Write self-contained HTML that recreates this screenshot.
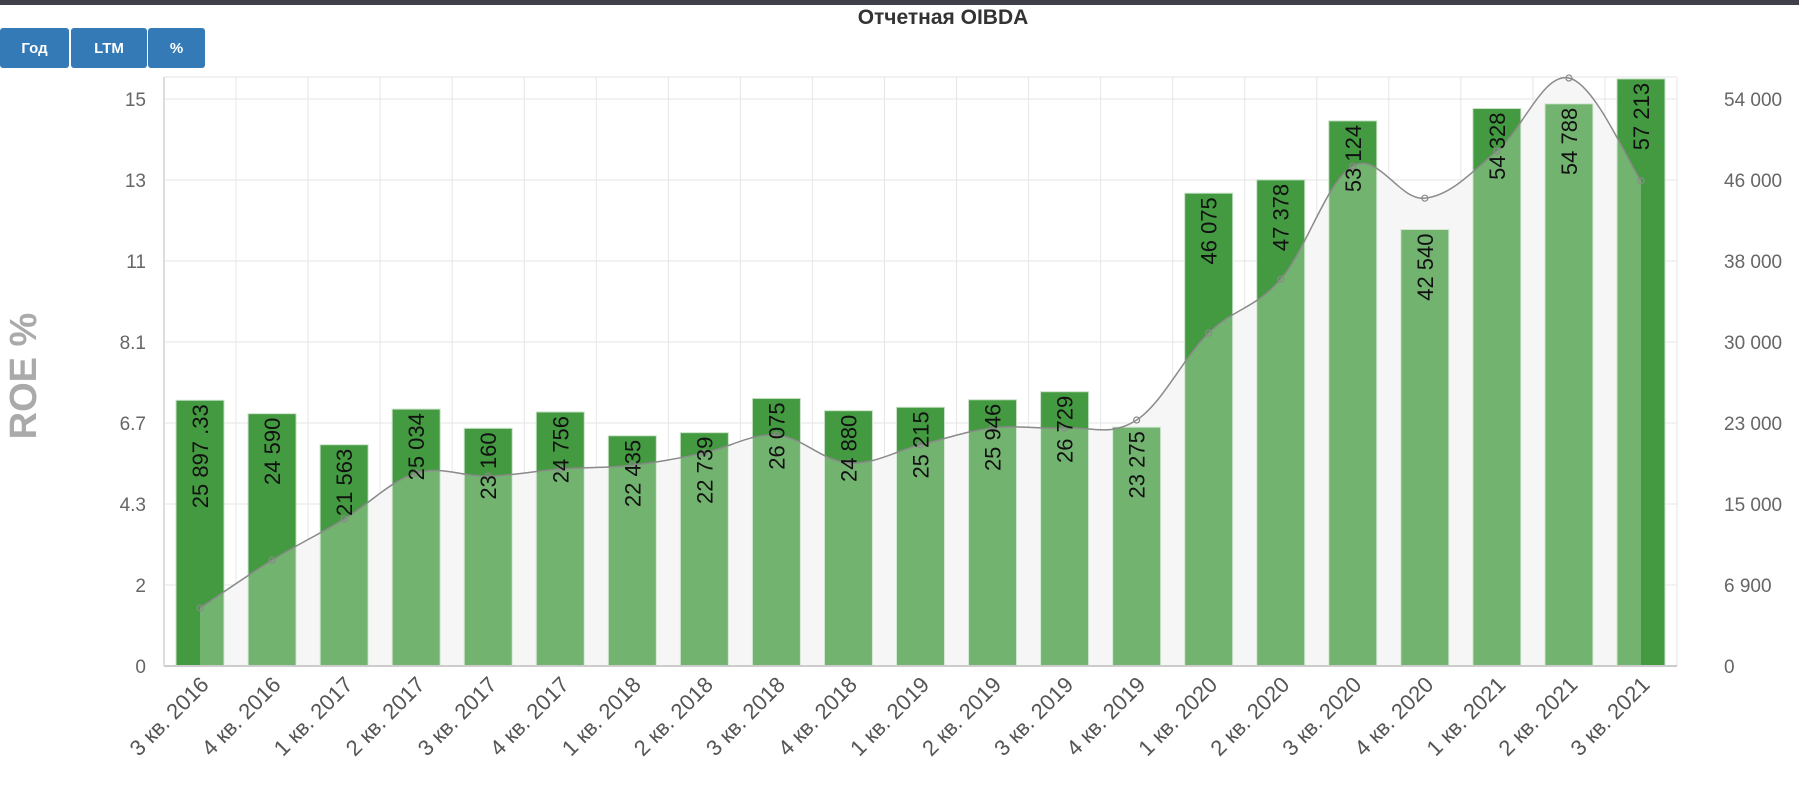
<!DOCTYPE html>
<html><head><meta charset="utf-8">
<style>
html,body{margin:0;padding:0;background:#fff;width:1799px;height:789px;overflow:hidden;font-family:"Liberation Sans","Noto Sans CJK SC",sans-serif;}
#topbar{position:absolute;left:0;top:0;width:1799px;height:5px;background:#3f4049;}
.btn{position:absolute;top:28px;height:40px;background:#337ab7;color:#fff;font-size:15px;font-weight:bold;display:flex;align-items:center;justify-content:center;border-radius:3px;}
</style></head><body>
<div id="topbar"></div>
<div class="btn" style="left:0;width:69px">Год</div>
<div class="btn" style="left:71px;width:76px">LTM</div>
<div class="btn" style="left:148px;width:57px">%</div>
<svg id="chart" width="1799" height="789" style="position:absolute;left:0;top:0">
<text x="943" y="24" text-anchor="middle" font-size="21" font-weight="bold" fill="#333">Отчетная OIBDA</text>
<text transform="translate(36,376) rotate(-90)" text-anchor="middle" font-size="38" font-weight="bold" fill="#aaa">ROE %</text>
</svg>
<script>
const categories=["3 кв. 2016","4 кв. 2016","1 кв. 2017","2 кв. 2017","3 кв. 2017","4 кв. 2017","1 кв. 2018","2 кв. 2018","3 кв. 2018","4 кв. 2018","1 кв. 2019","2 кв. 2019","3 кв. 2019","4 кв. 2019","1 кв. 2020","2 кв. 2020","3 кв. 2020","4 кв. 2020","1 кв. 2021","2 кв. 2021","3 кв. 2021"];
const oibda=[25897.33,24590,21563,25034,23160,24756,22435,22739,26075,24880,25215,25946,26729,23275,46075,47378,53124,42540,54328,54788,57213];
const oibdaLabels=["25 897 .33","24 590","21 563","25 034","23 160","24 756","22 435","22 739","26 075","24 880","25 215","25 946","26 729","23 275","46 075","47 378","53 124","42 540","54 328","54 788","57 213"];
const roe=[1.54,2.81,3.90,5.12,5.04,5.23,5.33,5.66,6.13,5.39,5.87,6.32,6.32,6.53,8.84,10.27,13.27,12.42,13.67,15.61,12.88];
const leftTicks=["0","2","4.3","6.7","8.1","11","13","15"];
const rightTicks=["0","6 900","15 000","23 000","30 000","38 000","46 000","54 000"];

const NS="http://www.w3.org/2000/svg";
const svg=document.getElementById('chart');
const L=164,R=1677,T=77,B=666;
const cw=(R-L)/categories.length;
const xC=i=>L+cw*(i+0.5);
const yBar=v=>B-v*(B-T)/57400;
const yRoe=v=>B-v*(B-101)/15;
const tickY=i=>B-i*81;
function mk(tag,attrs,parent){const e=document.createElementNS(NS,tag);for(const k in attrs)e.setAttribute(k,attrs[k]);(parent||svg).appendChild(e);return e;}

const grid=mk('g',{});


for(let i=0;i<leftTicks.length;i++){
  const y=tickY(i);
  const gl=mk('line',{x1:L,x2:R,y1:y,y2:y,stroke:'#e6e6e6','stroke-width':1},grid);
  
  
  const lt=mk('text',{x:146,y:y+7,'text-anchor':'end','font-size':19,fill:'#666'});
  lt.textContent=leftTicks[i];
  
  
  const rt=mk('text',{x:1724,y:y+7,'text-anchor':'start','font-size':19,fill:'#666'});
  rt.textContent=rightTicks[i];
  
  
}
for(let i=0;i<=categories.length;i++){
  const x=L+cw*i;
  const vl=mk('line',{x1:x,x2:x,y1:T,y2:B,stroke:'#e6e6e6','stroke-width':1},grid);
  
  
}
mk('line',{x1:L,x2:R,y1:T,y2:T,stroke:'#e6e6e6'});

const pts=roe.map((v,i)=>[xC(i),yRoe(v)]);
function spline(p){let d=`M${p[0][0]},${p[0][1]}`;for(let i=0;i<p.length-1;i++){const p0=p[i-1]||p[i],p1=p[i],p2=p[i+1],p3=p[i+2]||p2;const t=0.18;d+=` C${p1[0]+(p2[0]-p0[0])*t},${p1[1]+(p2[1]-p0[1])*t} ${p2[0]-(p3[0]-p1[0])*t},${p2[1]-(p3[1]-p1[1])*t} ${p2[0]},${p2[1]}`;}return d;}
const lineD=spline(pts);
const areaD=lineD+` L${pts[pts.length-1][0]},${B} L${pts[0][0]},${B} Z`;
const bgArea=mk('path',{d:areaD,fill:'#f3f3f3'});



const bw=48;
for(let i=0;i<oibda.length;i++){
  const y=yBar(oibda[i]);
  const b=mk('rect',{x:xC(i)-bw/2,y:y,width:bw,height:B-y,fill:'#439a40',stroke:'#c8e0c8','stroke-width':1});
  
  
}
const ovArea=mk('path',{d:areaD,fill:'rgba(255,255,255,0.25)'});


const ln=mk('path',{d:lineD,fill:'none',stroke:'#8a8a8a','stroke-width':1.5});


for(const p of pts){
  const c=mk('circle',{cx:p[0],cy:p[1],r:3,fill:'none',stroke:'#8a8a8a','stroke-width':1.2});
  
  
}
for(let i=0;i<oibda.length;i++){
  const y=yBar(oibda[i])+4;
  const t=mk('text',{transform:`translate(${xC(i)+8},${y}) rotate(-90)`,'text-anchor':'end','font-size':22,fill:'#111'});
  t.textContent=oibdaLabels[i];
  
  
}
const ax=mk('line',{x1:L,x2:R,y1:B,y2:B,stroke:'#ccc','stroke-width':2});


const ay=mk('line',{x1:L,x2:L,y1:T,y2:B,stroke:'#ddd','stroke-width':2});


for(let i=0;i<categories.length;i++){
  const t=mk('text',{transform:`translate(${xC(i)+10},${B+20}) rotate(-45)`,'text-anchor':'end','font-size':22,fill:'#555'});
  t.textContent=categories[i];
  
  
}
</script>
</body></html>
